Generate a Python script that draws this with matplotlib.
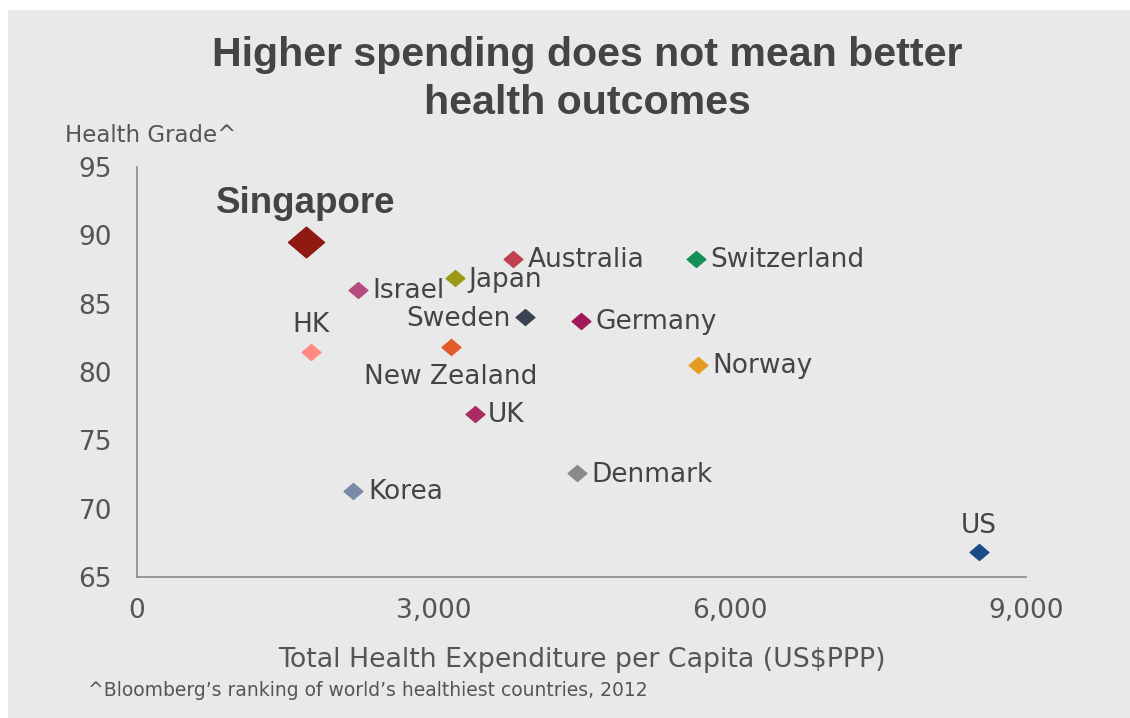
import matplotlib.pyplot as plt
from matplotlib.patches import Rectangle
from matplotlib.path import Path

plt.rcParams['font.family'] = ['DejaVu Sans']

countries = ['Singapore', 'Israel', 'Japan', 'Australia', 'Switzerland', 'HK',
             'Sweden', 'Germany', 'New Zealand', 'Norway', 'UK', 'Denmark',
             'Korea', 'US']
spending = [1710, 2240, 3220, 3810, 5660, 1760, 3930, 4490, 3180, 5680,
            3420, 4450, 2190, 8520]
grade = [89.5, 86.0, 86.9, 88.3, 88.3, 81.5, 84.0, 83.7, 81.8, 80.5,
         76.9, 72.6, 71.3, 66.8]
colors = ['#8e1a12', '#b84a82', '#9c9a14', '#c2404e', '#129058', '#ff8a84',
          '#3a4254', '#a2195a', '#e25a2a', '#e39c22', '#aa2a62', '#8a8a8a',
          '#7a8aa8', '#1c4a84']

# label offsets in pixels and alignment
label_pos = {
    'Singapore': (0, 39, 'center'),
    'Israel': (14, -1, 'left'),
    'Japan': (13, -2, 'left'),
    'Australia': (14, -1, 'left'),
    'Switzerland': (14, -1, 'left'),
    'HK': (0, 26, 'center'),
    'Sweden': (-15, -2, 'right'),
    'Germany': (15, -1, 'left'),
    'New Zealand': (0, -30, 'center'),
    'Norway': (14, -1, 'left'),
    'UK': (13, -1, 'left'),
    'Denmark': (15, -2, 'left'),
    'Korea': (15, -1, 'left'),
    'US': (0, 26, 'center'),
}

diamond = Path([(-1, 0), (0, 0.85), (1, 0), (0, -0.85), (-1, 0)],
               [Path.MOVETO, Path.LINETO, Path.LINETO, Path.LINETO, Path.CLOSEPOLY])

fig = plt.figure(figsize=(11.3, 7.18), dpi=100)
fig.patch.set_facecolor('white')
fig.patches.append(Rectangle((8 / 1130, 0), 1, 1 - 10 / 718, transform=fig.transFigure,
                             facecolor='#e9e9e9', edgecolor='none', zorder=-1))

ax = fig.add_axes([137 / 1130, 141 / 718, 889 / 1130, 410 / 718])
ax.set_facecolor('none')
ax.set_xlim(0, 9000)
ax.set_ylim(65, 95)

for name, x, y, c in zip(countries, spending, grade, colors):
    big = name == 'Singapore'
    ax.plot(x, y, marker=diamond, color=c, markersize=26 if big else 13.5,
            linestyle='none', clip_on=False)
    dx, dy, ha = label_pos[name]
    if big:
        ax.annotate(name, (x, y), xytext=(dx, dy), textcoords='offset pixels',
                    ha=ha, va='center', color='#444444', fontsize=26.5,
                    fontweight='bold', family='Liberation Sans')
    else:
        ax.annotate(name, (x, y), xytext=(dx, dy), textcoords='offset pixels',
                    ha=ha, va='center', color='#444444', fontsize=19)

for s in ['top', 'right']:
    ax.spines[s].set_visible(False)
for s in ['left', 'bottom']:
    ax.spines[s].set_color('#8a8a8a')
    ax.spines[s].set_linewidth(1.2)

ax.set_xticks([0, 3000, 6000, 9000])
ax.set_xticklabels(['0', '3,000', '6,000', '9,000'])
ax.set_yticks([65, 70, 75, 80, 85, 90, 95])
ax.tick_params(length=0, labelsize=19, labelcolor='#555555')
ax.tick_params(axis='y', pad=18)
ax.tick_params(axis='x', pad=15)

ax.set_xlabel('Total Health Expenditure per Capita (US$PPP)', fontsize=19.3,
              color='#555555', labelpad=17)

fig.text(65 / 1130, 1 - 135 / 718, 'Health Grade^', fontsize=16.5, color='#555555',
         ha='left', va='center')
fig.text(587 / 1130, 1 - 79 / 718, 'Higher spending does not mean better\nhealth outcomes',
         fontsize=29.6, fontweight='bold', color='#444444', ha='center', va='center',
         linespacing=1.33, family='Liberation Sans')
fig.text(88 / 1130, 1 - 691 / 718,
         "^Bloomberg\u2019s ranking of world\u2019s healthiest countries, 2012",
         fontsize=13.5, color='#555555', ha='left', va='center')

fig.savefig('out.png', dpi=100)
